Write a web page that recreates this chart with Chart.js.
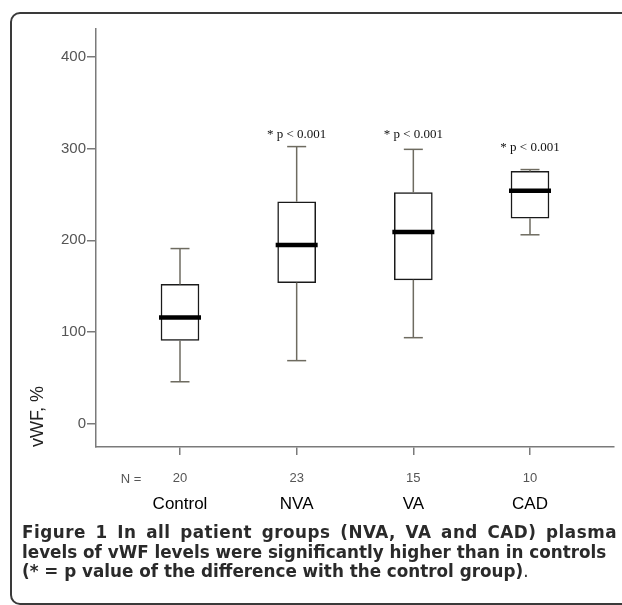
<!DOCTYPE html>
<html lang="en">
<head>
<meta charset="utf-8">
<title>vWF by group</title>
<script src="https://cdn.jsdelivr.net/npm/chart.js@4.4.1/dist/chart.umd.min.js"></script>
<style>
  body { margin:0; width:622px; height:605px; overflow:hidden; position:relative; background:#fff; }
  #frame { position:absolute; left:10px; top:12px; width:720px; height:589px;
           border:2px solid #3a3a3a; border-radius:10px; }
  #c { position:absolute; left:0; top:0; }
  #caption { position:absolute; left:22px; top:523px; width:595px; white-space:nowrap;
             font-family:"DejaVu Sans", sans-serif; font-size:16.8px; line-height:19.5px;
             color:#2a2a2a; font-weight:700; }
  #caption .l1 { text-align:justify; text-align-last:justify; letter-spacing:0.5px; }
  #caption .end { font-weight:400; }
</style>
</head>
<body>
<div id="frame"></div>
<canvas id="c" width="622" height="605"></canvas>
<div id="caption">
  <div class="l1">Figure 1 In all patient groups (NVA, VA and CAD) plasma</div>
  <div>levels of vWF levels were significantly higher than in controls</div>
  <div>(* = p value of the difference with the control group)<span class="end">.</span></div>
</div>

<script>
// data
var groups = ["Control", "NVA", "VA", "CAD"];
var nCounts = [20, 23, 15, 10];
var whiskerLow  = [46, 69, 94, 206];
var q1          = [91, 154, 157, 224];
var median      = [116, 195, 209, 254];
var q3          = [152, 242, 252, 275];
var whiskerHigh = [191, 302, 299, 277];
var pLabels = ["", "* p < 0.001", "* p < 0.001", "* p < 0.001"];
var yTicks = [0, 100, 200, 300, 400];

var axisGray = "#7a7a7a";

// whiskers, medians and the text bits under the axis
var boxExtras = {
  id: "boxExtras",
  afterDatasetsDraw: function(chart, args, opts) {
    var ctx = chart.ctx, x = chart.scales.x, y = chart.scales.y;
    ctx.save();
    function line(x1, y1, x2, y2) {
      ctx.beginPath(); ctx.moveTo(x1, y1); ctx.lineTo(x2, y2); ctx.stroke();
    }
    for (var i = 0; i < groups.length; i++) {
      var px = x.getPixelForValue(i);
      ctx.strokeStyle = "#6e6b60";
      ctx.lineWidth = 1.5;
      line(px, y.getPixelForValue(whiskerHigh[i]), px, y.getPixelForValue(q3[i]));
      line(px, y.getPixelForValue(q1[i]), px, y.getPixelForValue(whiskerLow[i]));
      line(px - 9.5, y.getPixelForValue(whiskerHigh[i]), px + 9.5, y.getPixelForValue(whiskerHigh[i]));
      line(px - 9.5, y.getPixelForValue(whiskerLow[i]), px + 9.5, y.getPixelForValue(whiskerLow[i]));

      ctx.strokeStyle = "#000";
      ctx.lineWidth = 4.5;
      line(px - 21, y.getPixelForValue(median[i]), px + 21, y.getPixelForValue(median[i]));

      if (pLabels[i]) {
        ctx.font = '13px "Liberation Serif"';
        ctx.fillStyle = "#111";
        ctx.textAlign = "center";
        ctx.textBaseline = "middle";
        ctx.fillText(pLabels[i], px, y.getPixelForValue(opts.labelAt[i]));
      }

      ctx.font = '17px "Liberation Sans"';
      ctx.fillStyle = "#000";
      ctx.textAlign = "center";
      ctx.textBaseline = "middle";
      ctx.fillText(groups[i], px, y.bottom + 57);
    }
    ctx.font = '13px "Liberation Sans"';
    ctx.fillStyle = "#555";
    ctx.textAlign = "center";
    ctx.textBaseline = "middle";
    ctx.fillText("N =", x.getPixelForValue(-0.42), y.bottom + 32);
    ctx.restore();
  }
};

var ctx = document.getElementById("c").getContext("2d");
var chart = new Chart(ctx, {
  type: "bar",
  data: {
    datasets: [{
      data: groups.map(function(g, i) { return { x: i, y: [q1[i], q3[i]] }; }),
      backgroundColor: "#fff",
      borderColor: "#1a1a1a",
      borderWidth: 1.5,
      borderSkipped: false,
      barThickness: 38
    }]
  },
  options: {
    responsive: false,
    animation: false,
    layout: { padding: { top: 29, right: 8, left: 0, bottom: 0 } },
    plugins: {
      legend: { display: false },
      tooltip: { enabled: false },
      boxExtras: { labelAt: [null, 315, 315, 301] }
    },
    scales: {
      x: {
        type: "linear",
        min: -0.72,
        max: 3.72,
        offset: false,
        afterBuildTicks: function(s) { s.ticks = groups.map(function(g, i) { return { value: i }; }); },
        afterFit: function(s) { s.height = 158; },
        grid: { offset: false, drawOnChartArea: false, drawTicks: true, tickLength: 8, color: axisGray, lineWidth: 1.5 },
        border: { color: axisGray, width: 1.5 },
        ticks: {
          callback: function(v) { return nCounts[v]; },
          font: { family: "Liberation Sans", size: 13 },
          color: "#555",
          padding: 16,
          maxRotation: 0,
          autoSkip: false
        }
      },
      y: {
        min: -25,
        max: 430,
        afterBuildTicks: function(s) { s.ticks = yTicks.map(function(v) { return { value: v }; }); },
        afterFit: function(s) { s.width = 96; },
        grid: { drawOnChartArea: false, drawTicks: true, tickLength: 9, color: axisGray, lineWidth: 1.5 },
        border: { color: axisGray, width: 1.5 },
        ticks: {
          font: { family: "Liberation Sans", size: 15 },
          color: "#555",
          padding: 1
        },
        title: {
          display: true,
          text: "vWF, %",
          align: "start",
          color: "#222",
          font: { family: "Liberation Sans", size: 18 },
          padding: { top: 27, bottom: 0 }
        }
      }
    }
  },
  plugins: [boxExtras]
});
</script>
</body>
</html>
